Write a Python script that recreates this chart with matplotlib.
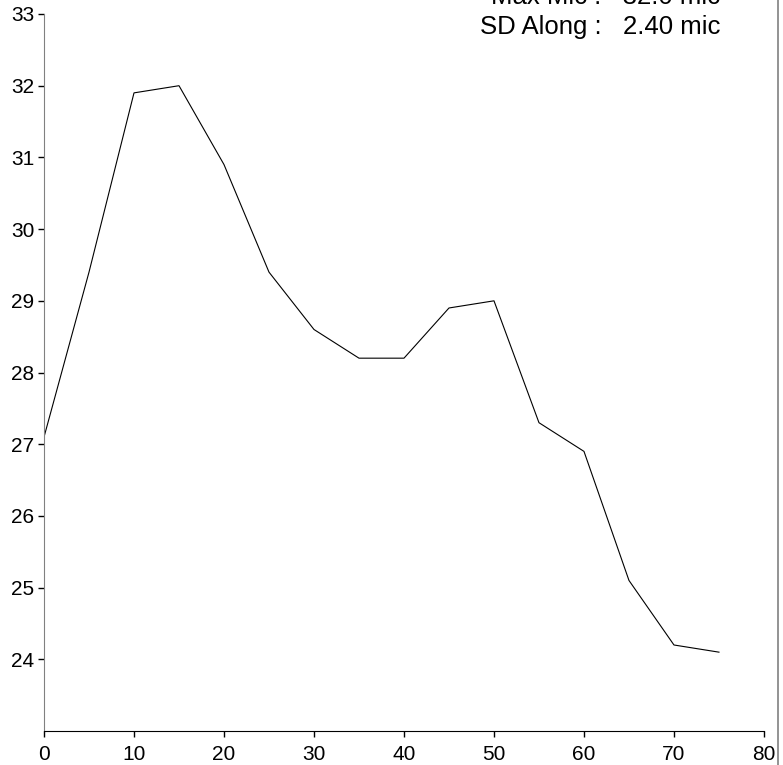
import matplotlib.pyplot as plt
from matplotlib.lines import Line2D

plt.rcParams['font.family'] = ['Liberation Sans', 'DejaVu Sans']

positions = [0, 5, 10, 15, 20, 25, 30, 35, 40, 45, 50, 55, 60, 65, 70, 75]
micron = [27.1, 29.4, 31.9, 32.0, 30.9, 29.4, 28.6, 28.2, 28.2, 28.9, 29.0,
          27.3, 26.9, 25.1, 24.2, 24.1]
y_ticks = [24, 25, 26, 27, 28, 29, 30, 31, 32, 33]
x_ticks = [0, 10, 20, 30, 40, 50, 60, 70, 80]
stats = ["Max Mic :   32.0 mic", "SD Along :   2.40 mic"]

fig = plt.figure(figsize=(7.83, 7.65), dpi=100)
ax = fig.add_axes([0.0562, 0.0444, 0.9195, 0.9373])

ax.plot(positions, micron, color="black", linewidth=0.8)
ax.set_xlim(0, 80)
ax.set_ylim(23, 33)
ax.set_xticks(x_ticks)
ax.set_yticks(y_ticks)
ax.tick_params(labelsize=15, length=4, width=1, colors="black")
ax.tick_params(axis="y", pad=3)
ax.tick_params(axis="x", pad=6)

for side in ("top", "right"):
    ax.spines[side].set_visible(False)
ax.spines["left"].set_color("#808080")
ax.spines["bottom"].set_color("black")

# stats block in the top right, partly cut off by the figure edge
fig.text(0.92, 1.0 - 4 / 765, stats[0], ha="right", va="baseline", fontsize=18.5)
fig.text(0.92, 1.0 - 34 / 765, stats[1], ha="right", va="baseline", fontsize=18.5)

# right frame edge
fig.add_artist(Line2D([778 / 783, 778 / 783], [0, 1], color="#808080",
                      linewidth=1.2, transform=fig.transFigure))

fig.savefig("out.png", dpi=100)
